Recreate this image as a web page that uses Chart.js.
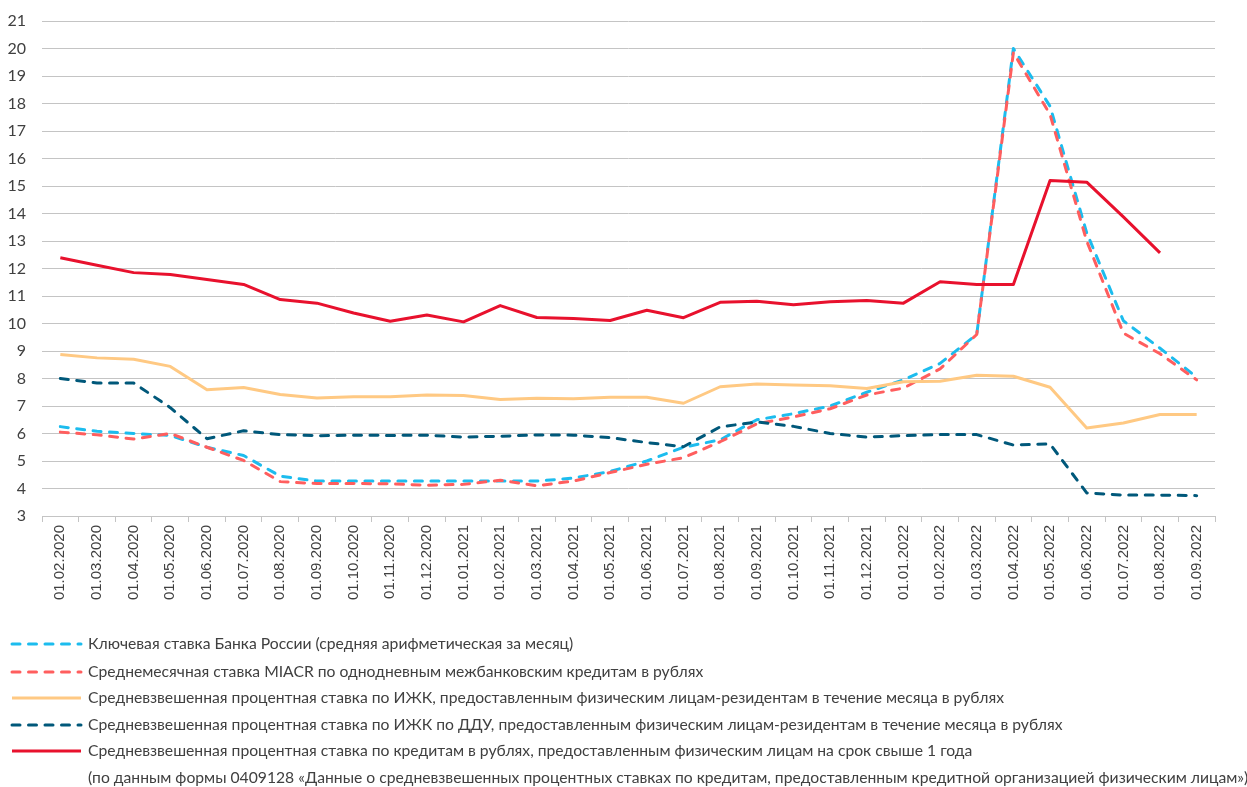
<!DOCTYPE html>
<html>
<head>
<meta charset="utf-8">
<script src="https://cdn.jsdelivr.net/npm/chart.js@4.4.1/dist/chart.umd.min.js"></script>
<style>
  html, body { margin: 0; padding: 0; background: #fff; }
  #wrap { width: 1247px; height: 787px; position: relative; }
</style>
</head>
<body>
<div id="wrap"><canvas id="chart"></canvas></div>
<script>
const LABELS = ['01.02.2020','01.03.2020','01.04.2020','01.05.2020','01.06.2020','01.07.2020','01.08.2020','01.09.2020',
  '01.10.2020','01.11.2020','01.12.2020','01.01.2021','01.02.2021','01.03.2021','01.04.2021','01.05.2021',
  '01.06.2021','01.07.2021','01.08.2021','01.09.2021','01.10.2021','01.11.2021','01.12.2021','01.01.2022',
  '01.02.2022','01.03.2022','01.04.2022','01.05.2022','01.06.2022','01.07.2022','01.08.2022','01.09.2022'];

const KEY_RATE = [6.25, 6.08, 6.0, 5.93, 5.5, 5.2, 4.45, 4.27, 4.27, 4.27, 4.27, 4.27, 4.27, 4.27, 4.38, 4.62,
  5.0, 5.5, 5.77, 6.5, 6.72, 7.0, 7.5, 7.95, 8.55, 9.6, 20.0, 17.9, 13.3, 10.1, 9.1, 8.05];

const MIACR = [6.05, 5.95, 5.8, 6.0, 5.5, 5.02, 4.25, 4.18, 4.18, 4.17, 4.12, 4.15, 4.3, 4.1, 4.27, 4.58,
  4.88, 5.12, 5.7, 6.35, 6.6, 6.9, 7.4, 7.65, 8.35, 9.6, 19.85, 17.6, 13.0, 9.65, 8.9, 7.95];

const MORTGAGE = [8.87, 8.75, 8.7, 8.44, 7.59, 7.67, 7.42, 7.29, 7.34, 7.34, 7.4, 7.38, 7.24, 7.28, 7.26, 7.32,
  7.32, 7.1, 7.7, 7.8, 7.76, 7.74, 7.64, 7.88, 7.9, 8.12, 8.08, 7.68, 6.2, 6.38, 6.69, 6.69];

const MORTGAGE_DDU = [8.0, 7.84, 7.84, 6.94, 5.81, 6.1, 5.96, 5.92, 5.94, 5.93, 5.94, 5.87, 5.9, 5.95, 5.94, 5.85,
  5.67, 5.52, 6.24, 6.42, 6.26, 6.0, 5.87, 5.92, 5.96, 5.96, 5.58, 5.62, 3.84, 3.76, 3.76, 3.74];

const CONSUMER = [12.39, 12.12, 11.85, 11.78, 11.6, 11.42, 10.87, 10.74, 10.38, 10.08, 10.31, 10.06, 10.65, 10.22, 10.18, 10.11,
  10.48, 10.21, 10.77, 10.81, 10.68, 10.79, 10.84, 10.74, 11.52, 11.42, 11.42, 15.2, 15.14, 13.88, 12.57, null];

const SERIES_NAMES = [
  'Ключевая ставка Банка России (средняя арифметическая за месяц)',
  'Среднемесячная ставка MIACR по однодневным межбанковским кредитам в рублях',
  'Средневзвешенная процентная ставка по ИЖК, предоставленным физическим лицам-резидентам в течение месяца в рублях',
  'Средневзвешенная процентная ставка по ИЖК по ДДУ, предоставленным физическим лицам-резидентам в течение месяца в рублях',
  'Средневзвешенная процентная ставка по кредитам в рублях, предоставленным физическим лицам на срок свыше 1 года'
];
const LAST_NOTE = '(по данным формы 0409128 «Данные о средневзвешенных процентных ставках по кредитам, предоставленным кредитной организацией физическим лицам»)';

const TEXT = '#404040';
const GRID = '#C4C4C4';
const DASH = [8, 8.5];

function line(label, data, color, dashed, order) {
  return {
    label, data, order,
    borderColor: color, backgroundColor: color,
    borderWidth: 3,
    borderDash: dashed ? DASH : [],
    borderCapStyle: dashed ? 'round' : 'butt',
    borderJoinStyle: 'round',
    pointRadius: 0, tension: 0, fill: false, spanGaps: false
  };
}

// legend drawn below the axis, one entry per row, like the original
const rowLegend = {
  id: 'rowLegend',
  afterDraw(chart) {
    const ctx = chart.ctx;
    const rows = [644, 672, 698, 725, 751];
    ctx.save();
    ctx.font = '15.7px Lato';
    ctx.textBaseline = 'middle';
    ctx.fillStyle = TEXT;
    chart.data.datasets.forEach((ds, i) => {
      const y = rows[i];
      ctx.beginPath();
      ctx.strokeStyle = ds.borderColor;
      ctx.lineWidth = ds.borderWidth;
      ctx.lineCap = ds.borderCapStyle;
      ctx.setLineDash(ds.borderDash);
      ctx.moveTo(12, y);
      ctx.lineTo(81, y);
      ctx.stroke();
      ctx.setLineDash([]);
      ctx.fillText(ds.label, 88, y);
    });
    ctx.fillText(LAST_NOTE, 88, 778);
    ctx.restore();
  }
};

new Chart(document.getElementById('chart'), {
  type: 'line',
  data: {
    labels: LABELS,
    datasets: [
      line(SERIES_NAMES[0], KEY_RATE, '#1CBCEE', true, 5),
      line(SERIES_NAMES[1], MIACR, '#FF5E5E', true, 4),
      line(SERIES_NAMES[2], MORTGAGE, '#FFC983', false, 3),
      line(SERIES_NAMES[3], MORTGAGE_DDU, '#00587A', true, 2),
      line(SERIES_NAMES[4], CONSUMER, '#E8112D', false, 1)
    ]
  },
  options: {
    responsive: true, maintainAspectRatio: false, animation: false,
    devicePixelRatio: 1,
    layout: { padding: { top: 21, right: 32, bottom: 171, left: 0 } },
    plugins: { legend: { display: false }, tooltip: { enabled: false } },
    scales: {
      x: {
        offset: true,
        grid: { offset: true, drawOnChartArea: false, tickLength: 6, color: GRID },
        border: { display: true, color: GRID },
        ticks: {
          autoSkip: false, maxRotation: 90, minRotation: 90, padding: 3,
          color: TEXT, font: { family: 'Liberation Sans', size: 15 }
        },
        afterFit(s) { s.height = 100; }
      },
      y: {
        min: 3, max: 21,
        ticks: { stepSize: 1, padding: 16, color: TEXT, font: { family: 'Lato', size: 16 } },
        grid: { color: GRID, drawTicks: false },
        border: { display: false },
        // tick padding is only meant horizontally here
        afterFit(s) { s.width = 42; s.paddingTop = 0; s.paddingBottom = 0; }
      }
    }
  },
  plugins: [rowLegend]
});
</script>
</body>
</html>
